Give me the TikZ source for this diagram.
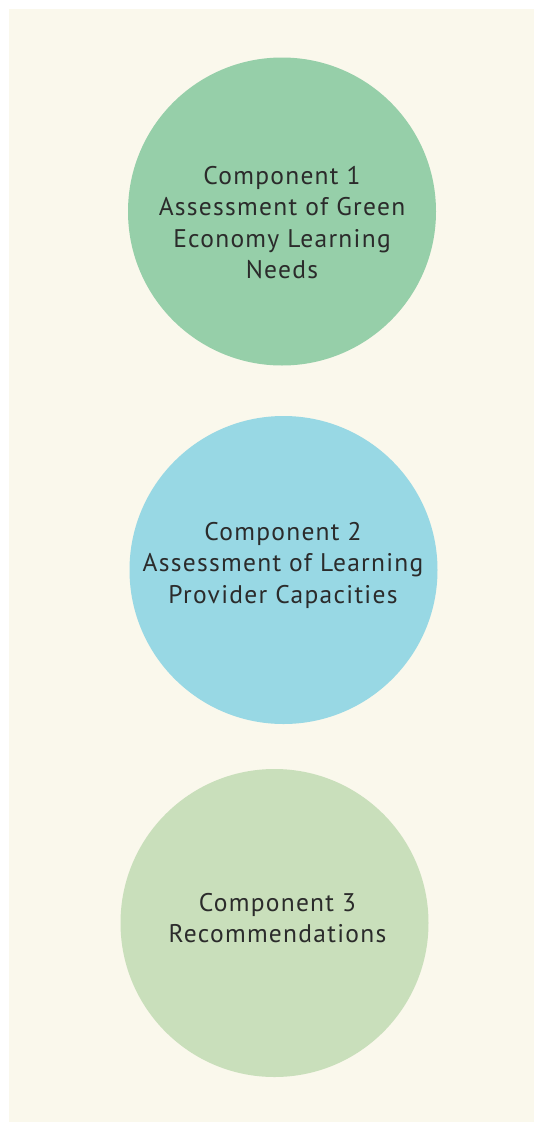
\documentclass[tikz,border=0pt]{standalone}
\usepackage{fontspec}
\setmainfont[LetterSpace=5]{PT Sans}
\definecolor{bgcream}{HTML}{FAF8EC}
\definecolor{cgreen}{HTML}{96CFA9}
\definecolor{cblue}{HTML}{98D8E4}
\definecolor{clight}{HTML}{C9DFBB}
\definecolor{txtc}{HTML}{2B2B2B}
\begin{document}
\begin{tikzpicture}[x=1pt,y=-1pt,
  circ/.style={circle, draw=none, minimum size=308pt, inner sep=0pt},
  txt/.style={align=center, text=txtc, font=\fontsize{25.5}{31.5}\selectfont, inner sep=0pt}]
\useasboundingbox (0,0) rectangle (534,1122);
\fill[white] (0,0) rectangle (534,1122);
\fill[bgcream] (9,9) rectangle (534,1122);
\node[circ, fill=cgreen] (c1) at (282,211.5) {};
\node[circ, fill=cblue] (c2) at (283.5,570) {};
\node[circ, fill=clight] (c3) at (274.5,923) {};
\node[txt] (t1) at (282,222.5) {Component 1\\Assessment of Green\\Economy Learning\\Needs};
\node[txt] (t2) at (283,565) {Component 2\\Assessment of Learning\\Provider Capacities};
\node[txt] (t3) at (277.5,918) {Component 3\\Recommendations};
\end{tikzpicture}
\end{document}
